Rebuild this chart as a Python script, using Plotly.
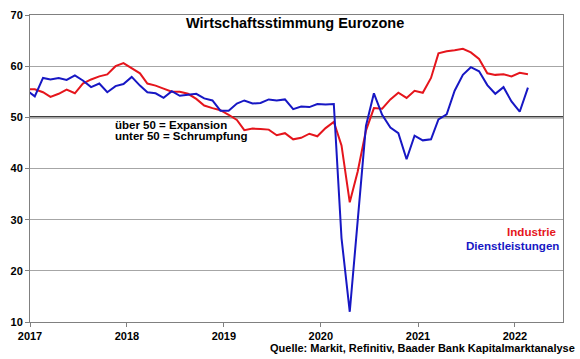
import pandas as pd
import plotly.graph_objects as go

# Monthly data: Dec 2016 .. Feb 2022
months = pd.date_range("2016-12-01", "2022-02-01", freq="MS")
industrie = [
    55.5,
    55.5, 54.9, 54.0, 54.6, 55.4, 54.7, 56.6, 57.4, 58.0, 58.4, 60.0, 60.6,   # 2017
    59.6, 58.6, 56.6, 56.2, 55.6, 55.0, 55.0, 54.6, 53.6, 52.3, 51.8, 51.4,   # 2018
    50.5, 49.5, 47.5, 47.8, 47.7, 47.6, 46.5, 46.9, 45.7, 46.0, 46.8, 46.3,   # 2019
    47.9, 49.1, 44.5, 33.4, 39.4, 47.4, 51.8, 51.7, 53.5, 54.8, 53.8, 55.2,   # 2020
    54.8, 57.7, 62.5, 62.9, 63.1, 63.4, 62.7, 61.4, 58.6, 58.3, 58.4, 58.0,   # 2021
    58.7, 58.4,                                                             # 2022
]
dienstleistungen = [
    55.3,
    54.1, 57.7, 57.4, 57.7, 57.3, 58.2, 57.2, 55.9, 56.6, 54.9, 56.1, 56.5,   # 2017
    57.9, 56.2, 54.9, 54.7, 53.8, 55.1, 54.2, 54.4, 54.6, 53.7, 53.3, 51.3,   # 2018
    51.3, 52.7, 53.3, 52.7, 52.8, 53.5, 53.3, 53.5, 51.6, 52.1, 52.0, 52.6,   # 2019
    52.5, 52.6, 26.4, 12.0, 30.5, 48.3, 54.7, 50.5, 48.0, 46.9, 41.8, 46.4,   # 2020
    45.5, 45.7, 49.6, 50.6, 55.2, 58.3, 59.8, 59.0, 56.3, 54.6, 55.9, 53.1,   # 2021
    51.1, 55.8,                                                             # 2022
]
x_dates = months + pd.Timedelta(days=18)

years = [2017, 2018, 2019, 2020, 2021, 2022]
y_ticks = [10, 20, 30, 40, 50, 60, 70]
threshold = 50

RED = "#e5151c"
BLUE = "#1717c4"
FONT = "Arial, Liberation Sans, sans-serif"

fig = go.Figure()
fig.add_trace(go.Scatter(x=x_dates, y=industrie, mode="lines", name="Industrie",
                         line=dict(color=RED, width=2), hoverinfo="skip"))
fig.add_trace(go.Scatter(x=x_dates, y=dienstleistungen, mode="lines", name="Dienstleistungen",
                         line=dict(color=BLUE, width=2), hoverinfo="skip"))

fig.add_shape(type="line", xref="paper", x0=0, x1=1, yref="y", y0=threshold, y1=threshold,
              line=dict(color="black", width=2), layer="between")

fig.update_layout(
    width=580, height=359,
    margin=dict(l=30, r=17, t=9, b=37),
    paper_bgcolor="white", plot_bgcolor="white",
    showlegend=False,
    font=dict(family=FONT, size=11, color="black"),
)
fig.update_xaxes(
    type="date",
    range=["2017-01-01", "2022-07-01"],
    tickvals=[f"{y}-01-01" for y in years],
    ticktext=[f"<b>{y}</b>" for y in years],
    ticks="outside", ticklen=4, tickcolor="#808080",
    showline=True, linecolor="#808080", linewidth=1, mirror=True,
    showgrid=False, tickfont=dict(size=11, family=FONT),
)
fig.update_yaxes(
    range=[10, 70],
    tickvals=y_ticks,
    ticktext=[f"<b>{v}</b>" for v in y_ticks],
    ticks="outside", ticklen=4, tickcolor="#808080",
    showline=True, linecolor="#808080", linewidth=1, mirror=True,
    showgrid=True, gridcolor="#a6a6a6", gridwidth=1,
    tickfont=dict(size=11, family=FONT),
)

ann = [
    dict(text="<b>Wirtschaftsstimmung Eurozone</b>", x=0.497, y=0.975, xanchor="center",
         yanchor="middle", font=dict(size=14.5)),
    dict(text="<b>über 50 = Expansion</b>", x=0.156, y=0.642, xanchor="left",
         yanchor="middle", font=dict(size=11.5)),
    dict(text="<b>unter 50 = Schrumpfung</b>", x=0.156, y=0.605, xanchor="left",
         yanchor="middle", font=dict(size=11.5)),
    dict(text="<b>Industrie</b>", x=0.993, y=0.296, xanchor="right", yanchor="middle",
         font=dict(size=11.6, color=RED)),
    dict(text="<b>Dienstleistungen</b>", x=0.997, y=0.250, xanchor="right", yanchor="middle",
         font=dict(size=11.6, color=BLUE)),
    dict(text="<b>Quelle: Markit, Refinitiv, Baader Bank Kapitalmarktanalyse</b>", x=1.026,
         y=-0.086, xanchor="right", yanchor="middle", font=dict(size=11)),
]
for a in ann:
    fig.add_annotation(xref="paper", yref="paper", showarrow=False, **a)

fig.write_html("out.html", config={"displayModeBar": False},
               post_script="document.body.style.margin='0';")
